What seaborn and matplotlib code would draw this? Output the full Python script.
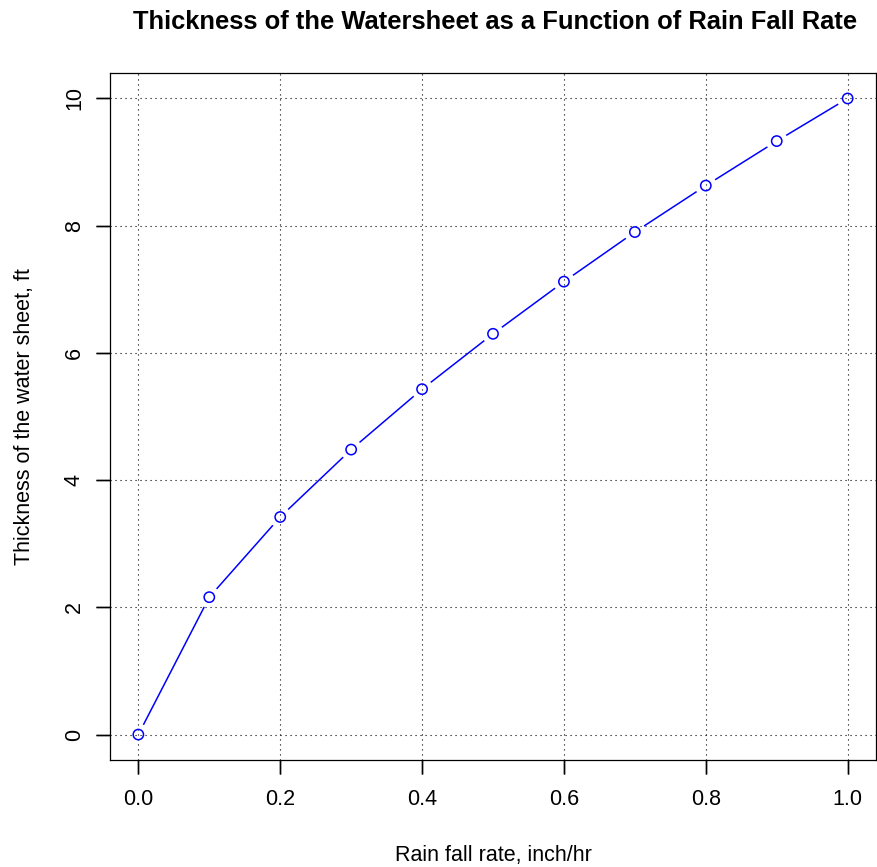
import seaborn as sns
import pandas as pd
import numpy as np
import matplotlib.pyplot as plt

# rain fall rate (inch/hr) and resulting water sheet thickness (ft)
rain_rate = [0.0, 0.1, 0.2, 0.3, 0.4, 0.5, 0.6, 0.7, 0.8, 0.9, 1.0]
thickness = [0.0, 2.16, 3.42, 4.48, 5.43, 6.30, 7.12, 7.90, 8.63, 9.33, 10.0]

x_ticks = [0.0, 0.2, 0.4, 0.6, 0.8, 1.0]
y_ticks = [0, 2, 4, 6, 8, 10]

sns.set_style("ticks")
plt.rcParams["font.family"] = ["Liberation Sans", "DejaVu Sans"]
plt.rcParams.update({
    "text.color": "black",
    "axes.labelcolor": "black",
    "axes.edgecolor": "black",
    "xtick.color": "black",
    "ytick.color": "black",
    "xtick.major.size": 10,
    "ytick.major.size": 10,
    "xtick.major.width": 1.0,
    "ytick.major.width": 1.0,
})

df = pd.DataFrame({"rate": rain_rate, "thickness": thickness})

fig = plt.figure(figsize=(8.77, 8.67), dpi=100)
ax = fig.add_axes([0.1254, 0.1234, 0.8735, 0.7924])

for t in x_ticks:
    ax.axvline(t, color="black", linestyle=(0, (1, 3.5)), linewidth=0.8, zorder=0)
for t in y_ticks:
    ax.axhline(t, color="black", linestyle=(0, (1, 3.5)), linewidth=0.8, zorder=0)

ax.set_xlim(-0.04, 1.04)
ax.set_ylim(-0.4, 10.4)

# R type="b": line segments stop short of each point
gap_px = 11
pts = ax.transData.transform(np.column_stack([rain_rate, thickness]))
inv = ax.transData.inverted()
for p0, p1 in zip(pts[:-1], pts[1:]):
    d = p1 - p0
    dist = np.hypot(*d)
    if dist <= 2 * gap_px:
        continue
    u = d / dist
    a = inv.transform(p0 + u * gap_px)
    b = inv.transform(p1 - u * gap_px)
    ax.plot([a[0], b[0]], [a[1], b[1]], color="blue", linewidth=1.1,
            solid_capstyle="butt")

sns.scatterplot(data=df, x="rate", y="thickness", ax=ax, marker="o", s=55,
                facecolor="none", edgecolor="blue", linewidth=1.1, zorder=3)

# outward tick marks drawn explicitly (R style)
for t in x_ticks:
    ax.plot([t, t], [0, -0.0204], transform=ax.get_xaxis_transform(),
            clip_on=False, color="black", linewidth=1.0, solid_capstyle="butt")
for t in y_ticks:
    ax.plot([0, -0.0183], [t, t], transform=ax.get_yaxis_transform(),
            clip_on=False, color="black", linewidth=1.0, solid_capstyle="butt")

ax.set_xticks(x_ticks)
ax.set_xticklabels([f"{t:.1f}" for t in x_ticks])
ax.set_yticks(y_ticks)
ax.set_yticklabels([str(t) for t in y_ticks], rotation=90, va="center")
ax.tick_params(axis="x", labelsize=15.5, pad=11)
ax.tick_params(axis="y", labelsize=15.5, pad=8)
for s in ax.spines.values():
    s.set_visible(True)
    s.set_color("black")
    s.set_linewidth(0.9)

ax.set_xlabel("Rain fall rate, inch/hr", fontsize=15.5, labelpad=25)
ax.set_ylabel("Thickness of the water sheet, ft", fontsize=15.5, labelpad=21)
fig.suptitle("Thickness of the Watersheet as a Function of Rain Fall Rate",
             fontsize=18.4, fontweight="bold", x=0.564, y=0.988)

fig.savefig("out.png", dpi=100)
